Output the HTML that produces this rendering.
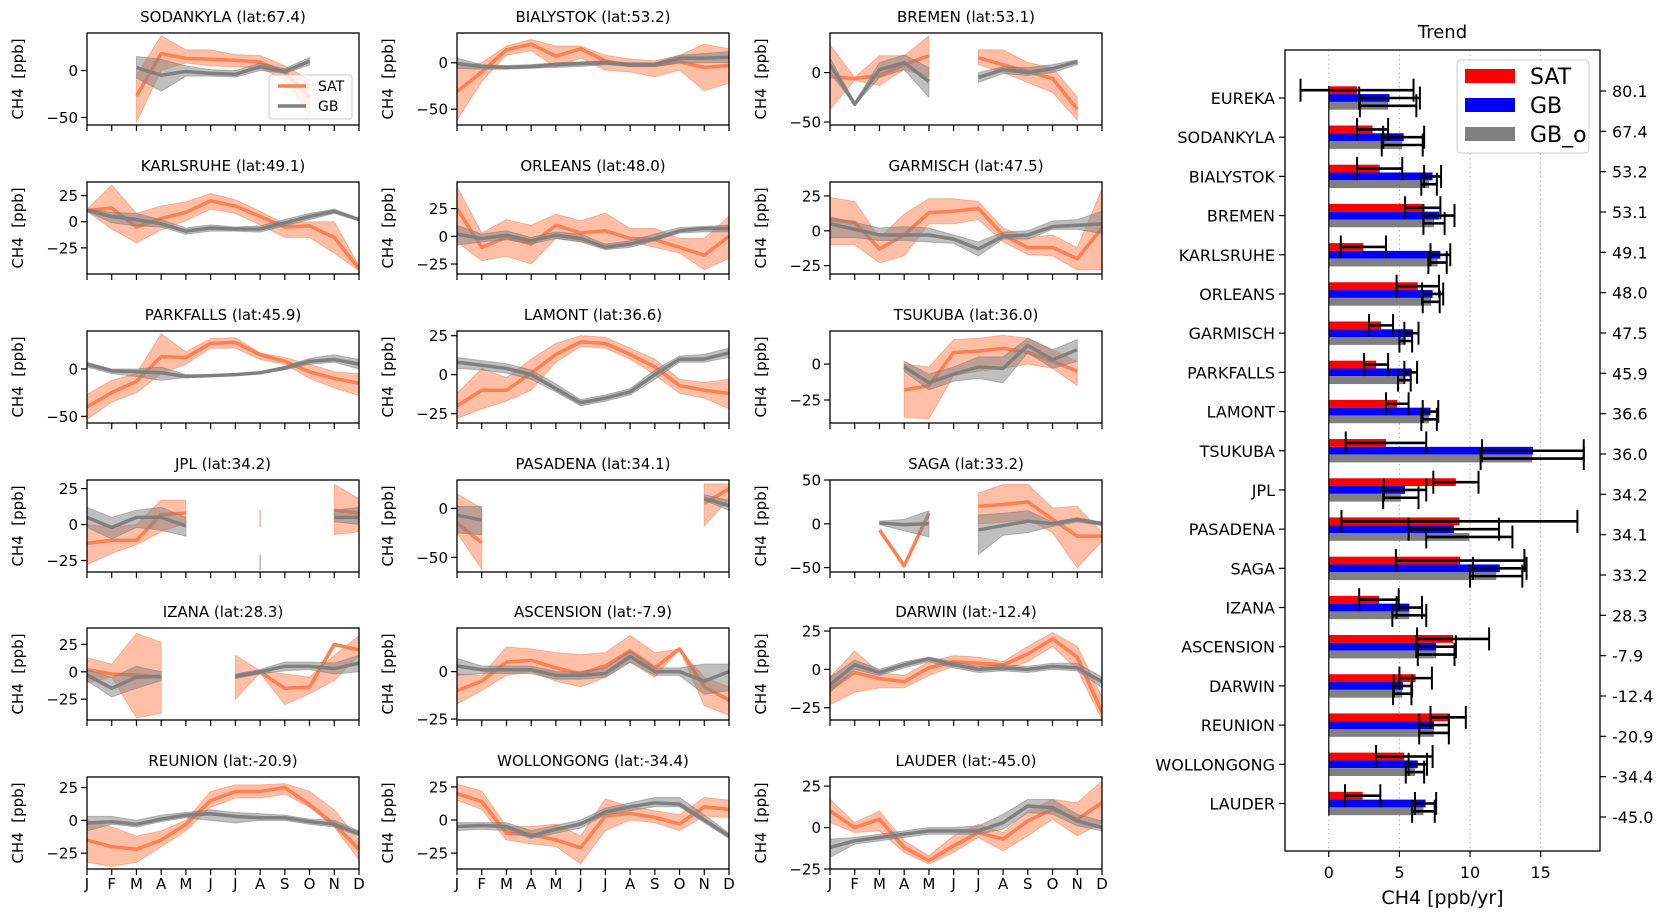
<!DOCTYPE html>
<html><head><meta charset="utf-8"><style>
html,body{margin:0;padding:0;background:#fff;}
svg{display:block;font-family:"DejaVu Sans","Liberation Sans",sans-serif;}
</style></head><body>
<svg id="fig" width="1671" height="920" viewBox="0 0 1671 920" xmlns="http://www.w3.org/2000/svg"></svg>
<script>
const stations = ["SODANKYLA","BIALYSTOK","BREMEN","KARLSRUHE","ORLEANS","GARMISCH","PARKFALLS","LAMONT","TSUKUBA","JPL","PASADENA","SAGA","IZANA","ASCENSION","DARWIN","REUNION","WOLLONGONG","LAUDER"];
const lats = ["67.4","53.2","53.1","49.1","48.0","47.5","45.9","36.6","36.0","34.2","34.1","33.2","28.3","-7.9","-12.4","-20.9","-34.4","-45.0"];
const months = ["J","F","M","A","M","J","J","A","S","O","N","D"];
const yMin = [-58,-67,-53,-50,-34,-31,-57,-31,-41,-33,-65,-55,-44,-25.5,-33,-37,-37,-25];
const yMax = [40,32,40,38,49,35,40,28,23,31,29,50,40,23,27,33,32.5,30.5];
const yTicks = [[0,-50],[0,-50],[0,-50],[25,0,-25],[25,0,-25],[25,0,-25],[0,-50],[25,0,-25],[0,-25],[25,0,-25],[0,-50],[50,0,-50],[25,0,-25],[0,-25],[25,0,-25],[25,0,-25],[25,0,-25],[25,0,-25]];
const N = null;
const satMean = [
[N,N,-27,18,13,12,11,9,-2,-28,N,N],
[-31,-10,14,20,7,15,2,-3,-3,1,-5,-3],
[-4,-6,-3,8,17,N,15,8,1,-6,-37,N],
[11,13,-5,3,9,20,15,5,-5,-4,-15,-45],
[25,-10,-1,-7,10,3,5,-2,-3,-10,-17,0],
[8,6,-13,-3,13,14,16,-3,-12,-12,-20,2],
[-40,-25,-13,13,12,27,28,15,8,-3,-10,-15],
[-20,-10,-10,1,13,21,20,13,5,-7,-10,-12],
[N,N,N,-18,-15,8,9,11,8,2,-5,N],
[-13,-11,-11,7,8,N,N,4,N,N,10,8],
[-15,-35,N,N,N,N,N,N,N,N,5,20],
[N,N,-7,-48,12,N,20,22,25,5,-14,-14],
[2,-2,-3,-5,N,N,-5,0,-15,-14,25,20],
[-10,-5,5,6,2,-1,3,11,2,12,-8,-15],
[-13,-2,-6,-8,1,5,4,3,10,20,8,-28],
[-15,-20,-22,-15,-3,15,22,22,25,12,-3,-22],
[20,14,-10,-11,-15,-21,3,5,2,-3,10,8],
[10,0,5,-12,-20,-11,-3,-7,4,11,5,15]];
const satLo = [
[N,N,-55,0,8,5,4,3,-10,-48,N,N],
[-62,-20,8,13,-5,5,-8,-10,-15,-8,-30,-22],
[-37,-8,-13,3,-5,N,8,0,-10,-20,-48,N],
[10,-7,-20,-8,1,12,8,-3,-15,-15,-30,-47],
[-5,-22,-18,-25,-2,-5,-8,-5,-10,-15,-30,-20],
[-10,-10,-23,-18,5,5,8,-8,-17,-18,-28,-28],
[-53,-35,-25,-5,5,22,22,10,5,-10,-20,-28],
[-28,-22,-17,-10,8,18,17,10,0,-12,-15,-22],
[N,N,N,-37,-38,-8,-5,-3,0,-3,-15,N],
[-28,-20,-14,-5,1,N,N,-2,N,N,-7,-5],
[-25,-62,N,N,N,N,N,N,N,N,-18,10],
[N,N,-7,-48,12,N,0,2,5,-10,-50,-20],
[-10,-5,-42,-38,N,N,-25,-1,-30,-20,-8,15],
[-17,-10,-2,0,-5,-8,-3,5,-3,12,-18,-23],
[-23,-15,-12,-12,-4,2,2,-1,5,15,0,-33],
[-32,-35,-32,-20,-8,10,17,17,20,10,-5,-30],
[15,8,-15,-18,-20,-33,-8,0,-2,-8,3,2],
[3,-3,-2,-15,-22,-15,-6,-14,-5,5,-5,3]];
const satHi = [
[N,N,-5,37,22,22,17,16,5,-10,N,N],
[-5,0,18,25,18,18,8,4,2,8,20,15],
[28,-5,17,17,37,N,23,23,10,5,-25,N],
[12,35,8,15,19,27,21,10,-2,0,0,-42],
[45,3,15,10,20,14,21,7,7,-2,-2,18],
[24,21,-5,12,23,23,21,2,-5,-3,-12,30],
[-27,-12,-5,37,18,32,33,17,12,5,-3,-5],
[-12,4,-2,10,20,25,24,17,10,-3,-5,-3],
[N,N,N,0,-2,17,18,20,18,10,2,N],
[0,-2,0,17,17,N,N,10,N,N,28,18],
[15,0,N,N,N,N,N,N,N,N,25,25],
[N,N,-7,-48,12,N,35,45,45,18,20,-10],
[13,7,35,27,N,N,15,1,-2,-5,15,33],
[-1,-2,13,12,10,9,10,19,10,12,-3,-8],
[-5,12,-2,-4,5,9,8,5,15,24,15,-18],
[0,-5,-12,-8,0,22,27,27,28,22,8,-15],
[27,22,-5,-5,-3,-12,16,10,7,4,17,15],
[17,3,10,-8,-17,-5,2,-3,10,17,15,28]];
const gbMean = [
[N,N,3,-5,-1,-3,-4,4,-1,10,N,N],
[-1,-4,-5,-4,-2,-1,0,-2,-2,5,5,6],
[8,-32,3,10,-9,N,-5,3,0,4,11,N],
[11,5,2,-2,-9,-6,-7,-7,-1,5,10,2],
[2,-2,1,-4,1,-2,-10,-7,-2,5,7,7],
[5,1,-3,-3,-3,-6,-13,-4,-3,3,4,5],
[5,-2,-3,-4,-8,-7,-6,-4,1,8,10,5],
[8,6,4,0,-9,-18,-15,-11,0,10,10,14],
[N,N,N,-2,-13,-7,-2,-3,13,3,10,N],
[5,-2,5,5,-1,N,N,-26,N,N,5,5],
[-7,-12,N,N,N,N,N,N,N,N,10,3],
[N,N,1,-1,0,N,-7,-2,3,0,5,0],
[-3,-15,-5,-4,N,N,-4,0,5,5,3,8],
[3,1,1,1,-2,-2,-1,8,0,0,-5,0],
[-10,3,-2,3,7,3,0,1,0,2,1,-8],
[-2,-1,-3,1,4,5,3,2,2,-1,-3,-10],
[-5,-4,-5,-12,-7,-3,6,10,13,12,0,-12],
[-12,-8,-6,-4,-2,-2,-2,3,13,12,4,0]];
const gbLo = [
[N,N,-8,-22,-6,-6,-7,0,-3,6,N,N],
[-6,-7,-7,-6,-5,-4,-2,-4,-4,0,0,0],
[0,-33,-5,3,-25,N,-10,-1,-3,0,8,N],
[10,-1,-4,-5,-12,-9,-9,-10,-4,2,8,1],
[-8,-5,-3,-7,-2,-5,-12,-10,-4,3,4,4],
[-5,-5,-7,-7,-8,-9,-18,-6,-6,1,1,-2],
[2,-5,-8,-12,-9,-8,-7,-5,-1,5,7,0],
[4,3,1,-3,-11,-20,-17,-13,-3,8,8,11],
[N,N,N,-5,-18,-12,-10,-13,8,-3,2,N],
[-2,-10,-2,-4,-8,N,N,-32,N,N,2,0],
[-25,-27,N,N,N,N,N,N,N,N,8,-2],
[N,N,-1,-8,-15,N,-35,-13,-10,-3,2,-2],
[-8,-23,-15,-8,N,N,-6,-2,1,2,-2,0],
[-2,-1,-1,-1,-4,-4,-3,5,-2,-2,-12,-10],
[-15,0,-4,1,5,1,-2,-1,-2,0,-1,-12],
[-8,-3,-5,-1,2,0,-2,0,0,-3,-5,-12],
[-8,-7,-8,-14,-10,-6,4,7,10,10,-2,-14],
[-18,-10,-8,-6,-4,-4,-4,-1,9,8,1,-2]];
const gbHi = [
[N,N,15,12,5,1,0,8,2,14,N,N],
[5,-2,-3,-2,0,1,2,0,0,8,10,12],
[15,-30,10,18,5,N,0,6,5,8,13,N],
[12,9,8,2,-6,-3,-5,-4,2,8,12,3],
[10,2,5,-1,4,2,-7,-4,2,8,9,10],
[10,6,2,3,2,-3,-8,-1,0,7,8,14],
[7,0,0,2,-6,-6,-5,-3,3,11,15,10],
[11,9,7,3,-6,-16,-13,-9,3,12,13,17],
[N,N,N,2,-7,-2,5,5,18,10,17,N],
[12,5,10,12,5,N,N,-21,N,N,10,12],
[2,2,N,N,N,N,N,N,N,N,14,8],
[N,N,3,5,15,N,10,12,15,2,7,2],
[2,-5,5,0,N,N,-2,2,9,9,8,15],
[7,3,3,3,0,0,2,11,2,2,4,4],
[-5,6,0,5,8,5,2,3,2,4,4,-5],
[3,3,0,4,6,8,6,5,4,1,0,-8],
[-2,-2,-2,-8,-4,0,9,13,17,17,4,-10],
[-7,-6,-4,-2,0,0,1,8,17,17,8,4]];

const trendStations = ["EUREKA","SODANKYLA","BIALYSTOK","BREMEN","KARLSRUHE","ORLEANS","GARMISCH","PARKFALLS","LAMONT","TSUKUBA","JPL","PASADENA","SAGA","IZANA","ASCENSION","DARWIN","REUNION","WOLLONGONG","LAUDER"];
const trendLats = ["80.1","67.4","53.2","53.1","49.1","48.0","47.5","45.9","36.6","36.0","34.2","34.1","33.2","28.3","-7.9","-12.4","-20.9","-34.4","-45.0"];
const trendSat = [2.0,3.1,3.6,6.65,2.45,6.3,3.7,3.35,4.85,4.05,9.0,9.25,9.3,3.55,8.8,6.15,8.45,5.35,2.4];
const trendSatErr = [4.0,1.1,1.6,1.25,1.6,1.5,0.85,0.85,0.8,2.85,1.6,8.35,4.55,1.4,2.55,1.15,1.25,2.0,1.25];
const trendGb = [4.3,5.3,7.35,7.8,7.9,7.35,5.85,5.8,7.2,14.45,5.4,8.85,12.1,5.7,7.6,5.25,7.45,6.3,6.85];
const trendGbErr = [2.15,1.45,0.6,1.1,0.7,0.75,0.5,0.45,0.55,3.6,1.5,3.2,1.9,0.9,1.4,0.65,1.05,0.65,0.75];
const trendGbo = [4.2,5.2,7.1,7.45,7.7,7.25,5.45,5.35,7.1,14.4,5.1,9.95,11.85,5.7,7.6,5.2,7.45,6.1,6.7];
const trendGboErr = [2.0,1.45,0.55,0.75,0.65,0.6,0.45,0.45,0.55,3.65,1.25,3.05,1.85,1.2,1.3,0.65,1.05,0.65,0.8];
const trendXTicks = [0,5,10,15];

const NS = "http://www.w3.org/2000/svg";
const svg = document.getElementById("fig");
function mk(tag, attrs, parent, text){
  const e = document.createElementNS(NS, tag);
  for (const k in attrs) e.setAttribute(k, attrs[k]);
  if (text !== undefined) e.textContent = text;
  (parent || svg).appendChild(e);
  return e;
}
const CORAL = "#ff7f50", GRAY = "#808080";
const colLeft = [87,457,830], rowTop = [33,182,331,480,628,777], AW = 272, AH = 92;
const defs = mk("defs", {});

stations.forEach((name, k) => {
  const r = Math.floor(k/3), c = k%3;
  const L = colLeft[c], T = rowTop[r];
  const g = mk("g", {});
  
  
  const xs = i => L + i*AW/11;
  const ys = v => T + (yMax[k]-v)/(yMax[k]-yMin[k])*AH;
  const cp = mk("clipPath", {id:"cp"+k}, defs);
  mk("rect", {x:L, y:T, width:AW, height:AH}, cp);
  const plot = mk("g", {"clip-path":"url(#cp"+k+")"}, g);

  function segs(arr){
    const out=[]; let cur=[];
    arr.forEach((v,i)=>{ if(v===null){ if(cur.length) out.push(cur); cur=[]; } else cur.push(i); });
    if(cur.length) out.push(cur); return out;
  }
  function drawBand(lo, hi, color, label){
    segs(lo).forEach(s=>{
      let e;
      if(s.length===1){
        const i=s[0];
        e = mk("line",{x1:xs(i),x2:xs(i),y1:ys(lo[i]),y2:ys(hi[i]),stroke:color,"stroke-opacity":0.6,"stroke-width":1.5},plot);
      } else {
        const pts = s.map(i=>xs(i)+","+ys(hi[i])).concat(s.slice().reverse().map(i=>xs(i)+","+ys(lo[i])));
        e = mk("polygon",{points:pts.join(" "),fill:color,"fill-opacity":0.5,stroke:color,"stroke-opacity":0.5,"stroke-width":1},plot);
      }
      
      
    });
  }
  function drawLine(m, color, label){
    segs(m).forEach(s=>{
      if(s.length<2) return;
      const e = mk("polyline",{points:s.map(i=>xs(i)+","+ys(m[i])).join(" "),fill:"none",stroke:color,"stroke-width":3.5,"stroke-linejoin":"round"},plot);
      
      
    });
  }
  drawBand(satLo[k], satHi[k], CORAL, 'sat-band');
  drawLine(satMean[k], CORAL, 'sat-line');
  drawBand(gbLo[k], gbHi[k], GRAY, 'gb-band');
  drawLine(gbMean[k], GRAY, 'gb-line');

  const fr = mk("rect",{x:L,y:T,width:AW,height:AH,fill:"none",stroke:"#000","stroke-width":1.3},g);
  
  
  const t = mk("text",{x:L+AW/2,y:T-11,"text-anchor":"middle","font-size":15,fill:"#000"},g,name+" (lat:"+lats[k]+")");
  
  
  const yl = mk("text",{x:0,y:0,"text-anchor":"middle","font-size":15,fill:"#000",transform:"translate("+(L-64)+","+(T+AH/2)+") rotate(-90)"},g,"CH4\u00a0\u00a0[ppb]");
  
  
  yTicks[k].forEach(v=>{
    const y = ys(v);
    mk("line",{x1:L-6,x2:L,y1:y,y2:y,stroke:"#000","stroke-width":1.2},g);
    const tl = mk("text",{x:L-9,y:y+5.5,"text-anchor":"end","font-size":15,fill:"#000"},g,v<0?"\u2212"+(-v):String(v));
    
    
  });
  months.forEach((m,i)=>{
    mk("line",{x1:xs(i),x2:xs(i),y1:T+AH,y2:T+AH+6,stroke:"#000","stroke-width":1.2},g);
    if(r===5){
      const ml = mk("text",{x:xs(i),y:T+AH+20,"text-anchor":"middle","font-size":15,fill:"#000"},g,m);
      
      
    }
  });
  if(k===0){
    const lg = mk("g",{},g);
    
    
    mk("rect",{x:269,y:75,width:83,height:44,rx:3,fill:"#fff","fill-opacity":0.8,stroke:"#ccc"},lg);
    mk("line",{x1:278,x2:306,y1:86,y2:86,stroke:CORAL,"stroke-width":3.5},lg);
    mk("line",{x1:278,x2:306,y1:106,y2:106,stroke:GRAY,"stroke-width":3.5},lg);
    const l1 = mk("text",{x:318,y:91,"font-size":14,fill:"#000"},lg,"SAT");
    
    
    const l2 = mk("text",{x:318,y:111,"font-size":14,fill:"#000"},lg,"GB");
    
    
  }
});

(function(){
  const L=1285, R=1600, T=50, B=851;
  const xMinT=-3.1, xMaxT=19.2;
  const xs = v => L + (v-xMinT)/(xMaxT-xMinT)*(R-L);
  const step = (803.5-98)/ (trendStations.length-1);
  const ry = i => 98 + i*step;
  const g = mk("g",{});
  
  
  trendXTicks.forEach(v=>{
    mk("line",{x1:xs(v),x2:xs(v),y1:T,y2:B,stroke:"#b0b0b0","stroke-width":1,"stroke-dasharray":"1.5,3"},g);
  });
  const bh = 7.8;
  const series = [[trendSat,trendSatErr,"#ff0000",-7.8,'sat'],[trendGb,trendGbErr,"#0000ff",0,'gb'],[trendGbo,trendGboErr,"#808080",7.8,'gb-o']];
  series.forEach(s=>{
    s[0].forEach((v,i)=>{
      const yc = ry(i)+s[3];
      const b = mk("rect",{x:Math.min(xs(0),xs(v)),y:yc-bh/2,width:Math.abs(xs(v)-xs(0)),height:bh,fill:s[2]},g);
      
      
    });
  });
  series.forEach(s=>{
    s[0].forEach((v,i)=>{
      const yc = ry(i)+s[3], e=s[1][i];
      const eg = mk("g",{stroke:"#000","stroke-width":2.6},g);
      
      
      mk("line",{x1:xs(v-e),x2:xs(v+e),y1:yc,y2:yc},eg);
      mk("line",{x1:xs(v-e),x2:xs(v-e),y1:yc-11.5,y2:yc+11.5,"stroke-width":2},eg);
      mk("line",{x1:xs(v+e),x2:xs(v+e),y1:yc-11.5,y2:yc+11.5,"stroke-width":2},eg);
    });
  });
  mk("line",{x1:xs(0),x2:xs(0),y1:ry(0)-12,y2:ry(18)+12,stroke:"#000","stroke-width":1.2},g);
  const fr = mk("rect",{x:L,y:T,width:R-L,height:B-T,fill:"none",stroke:"#000","stroke-width":1.3},g);
  
  
  trendStations.forEach((n,i)=>{
    const y = ry(i);
    mk("line",{x1:L-6,x2:L,y1:y,y2:y,stroke:"#000","stroke-width":1.2},g);
    const t = mk("text",{x:L-10,y:y+6,"text-anchor":"end","font-size":16,fill:"#000"},g,n);
    
    
  });
  const rstep = (817-91)/(trendLats.length-1);
  trendLats.forEach((l,i)=>{
    const y = 91 + i*rstep;
    mk("line",{x1:R,x2:R+6,y1:y,y2:y,stroke:"#000","stroke-width":1.2},g);
    const t = mk("text",{x:R+12,y:y+6,"text-anchor":"start","font-size":16,fill:"#000"},g,l);
    
    
  });
  trendXTicks.forEach(v=>{
    mk("line",{x1:xs(v),x2:xs(v),y1:B,y2:B+6,stroke:"#000","stroke-width":1.2},g);
    const t = mk("text",{x:xs(v),y:B+27,"text-anchor":"middle","font-size":16,fill:"#000"},g,String(v));
    
    
  });
  const xl = mk("text",{x:(L+R)/2,y:904,"text-anchor":"middle","font-size":19,fill:"#000"},g,"CH4 [ppb/yr]");
  
  
  const tt = mk("text",{x:(L+R)/2,y:38,"text-anchor":"middle","font-size":18,fill:"#000"},g,"Trend");
  
  
  const lg = mk("g",{},g);
  
  
  mk("rect",{x:1457,y:60,width:132,height:93,rx:4,fill:"#fff","fill-opacity":0.85,stroke:"#ccc"},lg);
  [["SAT","#ff0000",76],["GB","#0000ff",105],["GB_o","#808080",134]].forEach(e=>{
    mk("rect",{x:1465,y:e[2]-7,width:50,height:14,fill:e[1]},lg);
    const t = mk("text",{x:1530,y:e[2]+8,"font-size":22,fill:"#000"},lg,e[0]);
    
    
  });
})();
</script>
</body></html>
